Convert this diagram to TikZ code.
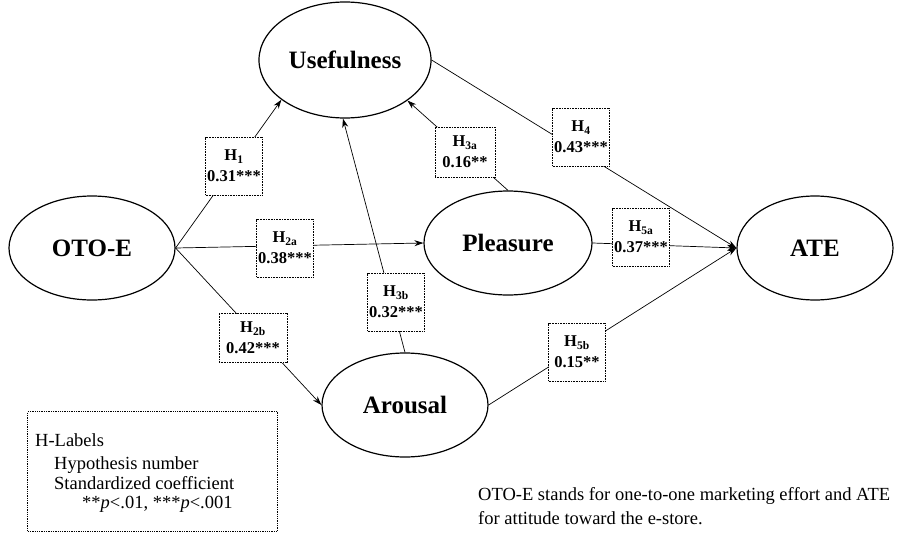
\documentclass[tikz,border=0pt]{standalone}
\usepackage{fontspec}
\setmainfont{Liberation Serif}
\usetikzlibrary{arrows.meta,shapes.geometric,backgrounds}
\begin{document}
\begin{tikzpicture}[x=1pt,y=-1pt,
  latent/.style={ellipse,draw,line width=1.2pt,font=\fontsize{25}{28}\selectfont\bfseries,inner sep=0pt},
  hbox/.style={draw,dash pattern=on 1pt off 0.6pt,line width=0.9pt,fill=white,minimum width=57pt,minimum height=58pt,align=center,font=\fontsize{16.5}{21}\selectfont\bfseries,inner sep=0pt},
  conn/.style={line width=0.7pt,-{Stealth[length=9pt,width=6pt]}},
  legtext/.style={anchor=base west,inner sep=0pt,font=\fontsize{18.5}{22}\selectfont},
]
\useasboundingbox (0,0) rectangle (897,533);

\node[latent,minimum width=172pt,minimum height=116pt] (useful) at (345,60) {Usefulness};
\node[latent,minimum width=166pt,minimum height=104pt] (oto) at (92,248) {OTO-E};
\node[latent,minimum width=168pt,minimum height=104pt] (pleas) at (508,243) {Pleasure};
\node[latent,minimum width=156pt,minimum height=104pt] (ate) at (815,248) {ATE};
\node[latent,minimum width=166pt,minimum height=104pt] (arousal) at (405,405) {Arousal};

\node[hbox] (h1) at (234,166) {H\textsubscript{1}\\0.31***};
\node[hbox] (h2a) at (285,248) {H\textsubscript{2a}\\0.38***};
\node[hbox,minimum width=68pt,minimum height=49pt] (h2b) at (253,338) {H\textsubscript{2b}\\0.42***};
\node[hbox,minimum width=60pt,minimum height=50pt] (h3a) at (465,152) {H\textsubscript{3a}\\0.16**};
\node[hbox] (h3b) at (396,302) {H\textsubscript{3b}\\0.32***};
\node[hbox] (h4) at (581,137) {H\textsubscript{4}\\0.43***};
\node[hbox] (h5a) at (641,237) {H\textsubscript{5a}\\0.37***};
\node[hbox] (h5b) at (577,352) {H\textsubscript{5b}\\0.15**};

\begin{scope}[on background layer]
\draw[conn] (oto.east) -- (useful.212);
\draw[conn] (oto.east) -- (pleas.west);
\draw[conn] (oto.east) -- (arousal.west);
\draw[conn] (pleas.north) -- (useful.327);
\draw[conn] (arousal.north) -- (useful.268);
\draw[conn] (useful.east) -- (ate.west);
\draw[conn] (pleas.east) -- (ate.west);
\draw[conn] (arousal.east) -- (ate.west);
\end{scope}

\node[draw,densely dotted,line width=1.3pt,minimum width=250pt,minimum height=120pt,anchor=north west,inner sep=0pt] (legend) at (27,411) {};
\node[legtext] (l1) at (35,446) {H-Labels};
\node[legtext] (l2) at (54,469) {Hypothesis number};
\node[legtext] (l3) at (54,489) {Standardized coefficient};
\node[legtext] (l4) at (82,508) {**\textit{p}<.01, ***\textit{p}<.001};

\node[legtext] (f1) at (478,500) {OTO-E stands for one-to-one marketing effort and ATE};
\node[legtext] (f2) at (478,524) {for attitude toward the e-store.};
\end{tikzpicture}
\end{document}
